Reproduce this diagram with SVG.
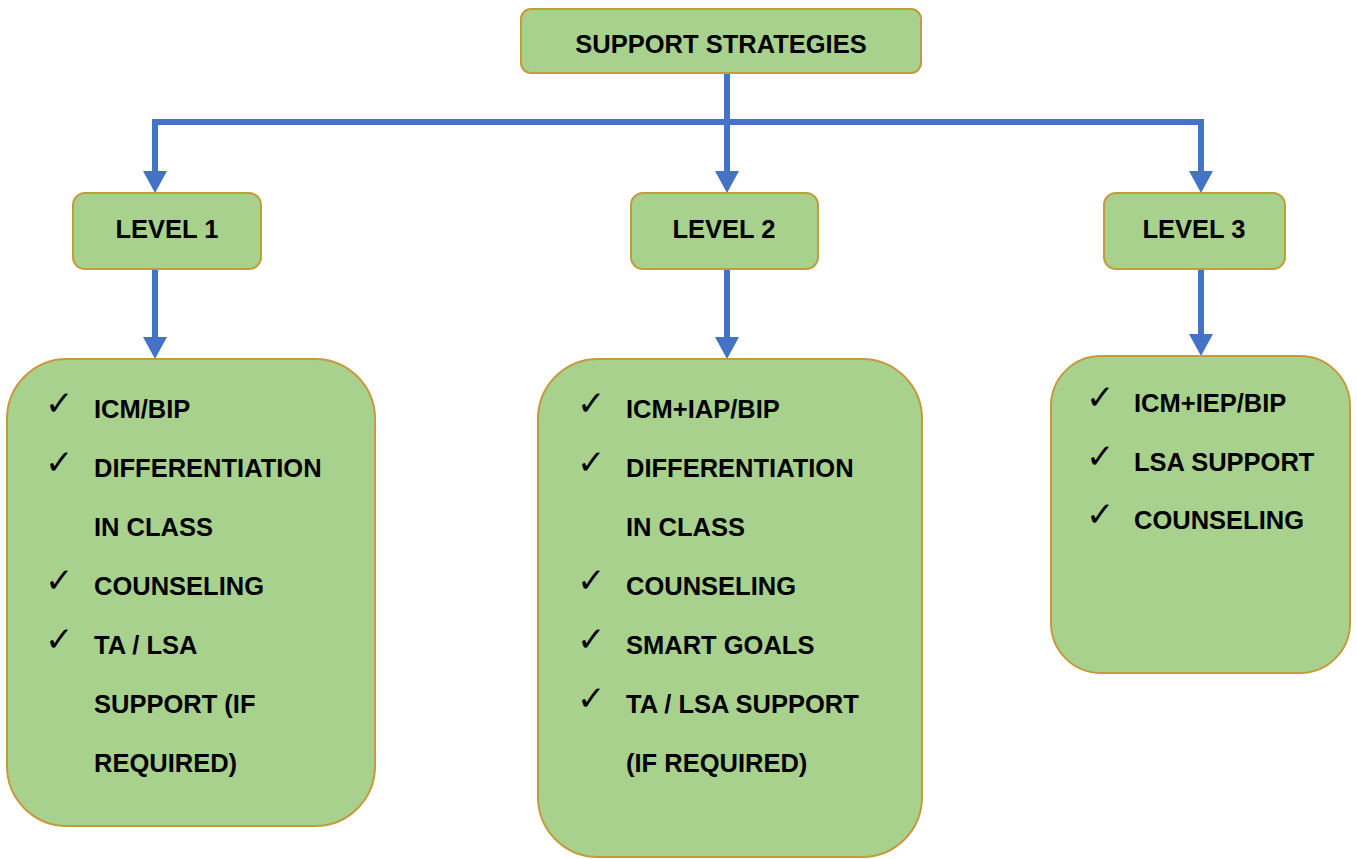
<svg xmlns="http://www.w3.org/2000/svg" width="1357" height="859" viewBox="0 0 1357 859">
<style>
.box{fill:#a9d18e;stroke:#c49a3c;stroke-width:2}
.t{font-family:"Liberation Sans",Arial,sans-serif;font-weight:bold;font-size:25.5px;fill:#000}
.c{font-family:"DejaVu Sans",sans-serif;font-size:34px;fill:#000}
.ln{stroke:#4472c4;stroke-width:6;fill:none}
</style>
<defs>
<marker id="ah" markerUnits="userSpaceOnUse" markerWidth="24" markerHeight="24" refX="0" refY="12" orient="auto">
<path d="M0,0 L22,12 L0,24 Z" fill="#4472c4"/>
</marker>
</defs>
<rect width="1357" height="859" fill="#fff"/>
<g id="connectors">
<path class="ln" d="M727,73 V171" marker-end="url(#ah)"/>
<path class="ln" d="M152,122 H1204"/>
<path class="ln" d="M155,119 V171" marker-end="url(#ah)"/>
<path class="ln" d="M1201,119 V171" marker-end="url(#ah)"/>
<path class="ln" d="M155,269 V337" marker-end="url(#ah)"/>
<path class="ln" d="M727,269 V337" marker-end="url(#ah)"/>
<path class="ln" d="M1201,269 V334" marker-end="url(#ah)"/>
</g>
<g id="root">
<rect class="box" x="521" y="9" width="400" height="64" rx="10"/>
<text class="t" x="721" y="53" text-anchor="middle">SUPPORT STRATEGIES</text>
</g>
<g id="level1">
<rect class="box" x="73" y="193" width="188" height="76" rx="12"/>
<text class="t" x="167" y="238" text-anchor="middle">LEVEL 1</text>
</g>
<g id="level2">
<rect class="box" x="631" y="193" width="187" height="76" rx="12"/>
<text class="t" x="724" y="238" text-anchor="middle">LEVEL 2</text>
</g>
<g id="level3">
<rect class="box" x="1104" y="193" width="181" height="76" rx="12"/>
<text class="t" x="1194" y="238" text-anchor="middle">LEVEL 3</text>
</g>
<g id="list1">
<rect class="box" x="7" y="359" width="368" height="467" rx="60"/>
<text class="c" x="45" y="415">✓</text>
<text class="t" x="94" y="418">ICM/BIP</text>
<text class="c" x="45" y="474">✓</text>
<text class="t" x="94" y="477">DIFFERENTIATION</text>
<text class="t" x="94" y="536">IN CLASS</text>
<text class="c" x="45" y="592">✓</text>
<text class="t" x="94" y="595">COUNSELING</text>
<text class="c" x="45" y="651">✓</text>
<text class="t" x="94" y="654">TA / LSA</text>
<text class="t" x="94" y="713">SUPPORT (IF</text>
<text class="t" x="94" y="772">REQUIRED)</text>
</g>
<g id="list2">
<rect class="box" x="538" y="359" width="384" height="498" rx="60"/>
<text class="c" x="577" y="415">✓</text>
<text class="t" x="626" y="418">ICM+IAP/BIP</text>
<text class="c" x="577" y="474">✓</text>
<text class="t" x="626" y="477">DIFFERENTIATION</text>
<text class="t" x="626" y="536">IN CLASS</text>
<text class="c" x="577" y="592">✓</text>
<text class="t" x="626" y="595">COUNSELING</text>
<text class="c" x="577" y="651">✓</text>
<text class="t" x="626" y="654">SMART GOALS</text>
<text class="c" x="577" y="710">✓</text>
<text class="t" x="626" y="713">TA / LSA SUPPORT</text>
<text class="t" x="626" y="772">(IF REQUIRED)</text>
</g>
<g id="list3">
<rect class="box" x="1051" y="356" width="299" height="317" rx="50"/>
<text class="c" x="1086" y="409">✓</text>
<text class="t" x="1134" y="412">ICM+IEP/BIP</text>
<text class="c" x="1086" y="468">✓</text>
<text class="t" x="1134" y="471">LSA SUPPORT</text>
<text class="c" x="1086" y="526">✓</text>
<text class="t" x="1134" y="529">COUNSELING</text>
</g>
</svg>
